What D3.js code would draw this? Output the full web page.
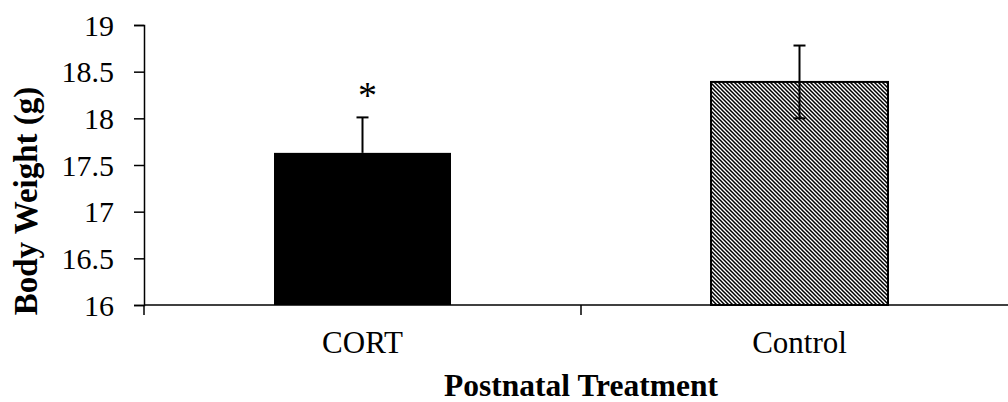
<!DOCTYPE html>
<html><head><meta charset="utf-8">
<script src="https://cdn.jsdelivr.net/npm/d3@7"></script>
<style>body{margin:0;background:#fff}svg{display:block}text{font-family:"Liberation Serif","Times New Roman",serif}</style>
</head><body><svg id="c" width="1008" height="402"></svg>
<script>
const categories = ["CORT", "Control"];
const means = [17.63, 18.39];
const errors = [0.38, 0.39];
const sigMarks = ["*", ""];
const yTicks = [16, 16.5, 17, 17.5, 18, 18.5, 19];
const yTitle = "Body Weight (g)";
const xTitle = "Postnatal Treatment";

const svg = d3.select("#c");
const m = {l:144, r:1018, t:25, b:305};
const defs = svg.append("defs");
const pat = defs.append("pattern").attr("id","hatch").attr("patternUnits","userSpaceOnUse")
  .attr("width",4).attr("height",4);
pat.append("rect").attr("width",4).attr("height",4).attr("fill","#fff");
pat.append("path").attr("d","M-1,-1L5,5M-1,3L1,5M3,-1L5,1").attr("stroke","#000").attr("stroke-width",1.5);

const x = d3.scaleBand().domain(categories).range([m.l, m.r]).paddingInner(0.595).paddingOuter(0.2975);
const x0 = d3.scaleBand().domain(categories).range([m.l, m.r]);
const y = d3.scaleLinear().domain([16, 19]).range([m.b, m.t]);

const fills = ["#000", "url(#hatch)"];
svg.selectAll("rect.bar").data(categories).join("rect").attr("class","bar")
  .attr("x", d=>x(d)).attr("width", x.bandwidth())
  .attr("y", (d,i)=>y(means[i])).attr("height", (d,i)=>m.b - y(means[i]))
  .attr("fill", (d,i)=>fills[i]).attr("stroke", "#000").attr("stroke-width", (d,i)=> i===0?0:2);

// error bars
const eb = svg.append("g").attr("stroke","#000").attr("stroke-width",2).attr("fill","none");
categories.forEach((c,i)=>{
  const cx = x(c) + x.bandwidth()/2;
  const lo = i===0 ? means[i] : means[i]-errors[i];
  eb.append("line").attr("x1",cx).attr("x2",cx).attr("y1",y(lo)).attr("y2",y(means[i]+errors[i]));
  eb.append("line").attr("x1",cx-6).attr("x2",cx+6).attr("y1",y(means[i]+errors[i])).attr("y2",y(means[i]+errors[i]));
  if(i!==0) eb.append("line").attr("x1",cx-6).attr("x2",cx+6).attr("y1",y(lo)).attr("y2",y(lo));
  if(sigMarks[i]) svg.append("text").attr("x",cx+5).attr("y",y(means[i]+errors[i]) - 9)
    .attr("text-anchor","middle").attr("font-size",38).text(sigMarks[i]);
});

// y axis
const ya = svg.append("g").attr("transform",`translate(${m.l},0)`)
  .call(d3.axisLeft(y).tickValues(yTicks).tickFormat(d=>d).tickSize(10).tickPadding(20));
ya.select(".domain").attr("stroke-width",1.5);
ya.selectAll(".tick line").attr("stroke-width",1.5);
ya.selectAll("text").attr("font-size",30).attr("font-family","Liberation Serif").attr("fill","#000").attr("dy","0.34em");

// x axis
const xa = svg.append("g");
xa.append("line").attr("x1",m.l).attr("x2",1008).attr("y1",m.b).attr("y2",m.b).attr("stroke","#000").attr("stroke-width",1.5);
[...categories.map(c=>x0(c)), m.r].forEach(t=>{
  xa.append("line").attr("x1",t).attr("x2",t).attr("y1",m.b).attr("y2",m.b+10).attr("stroke","#000").attr("stroke-width",1.5);
});
categories.forEach(c=>{
  xa.append("text").attr("x", x0(c)+x0.bandwidth()/2).attr("y",353).attr("text-anchor","middle")
    .attr("font-size",31).text(c);
});

svg.append("text").attr("x",(m.l+m.r)/2).attr("y",396).attr("text-anchor","middle")
  .attr("font-size",31.5).attr("font-weight","bold").text(xTitle);
svg.append("text").attr("transform","translate(37,201) rotate(-90)").attr("text-anchor","middle")
  .attr("font-size",33).attr("font-weight","bold").text(yTitle);
</script></body></html>
